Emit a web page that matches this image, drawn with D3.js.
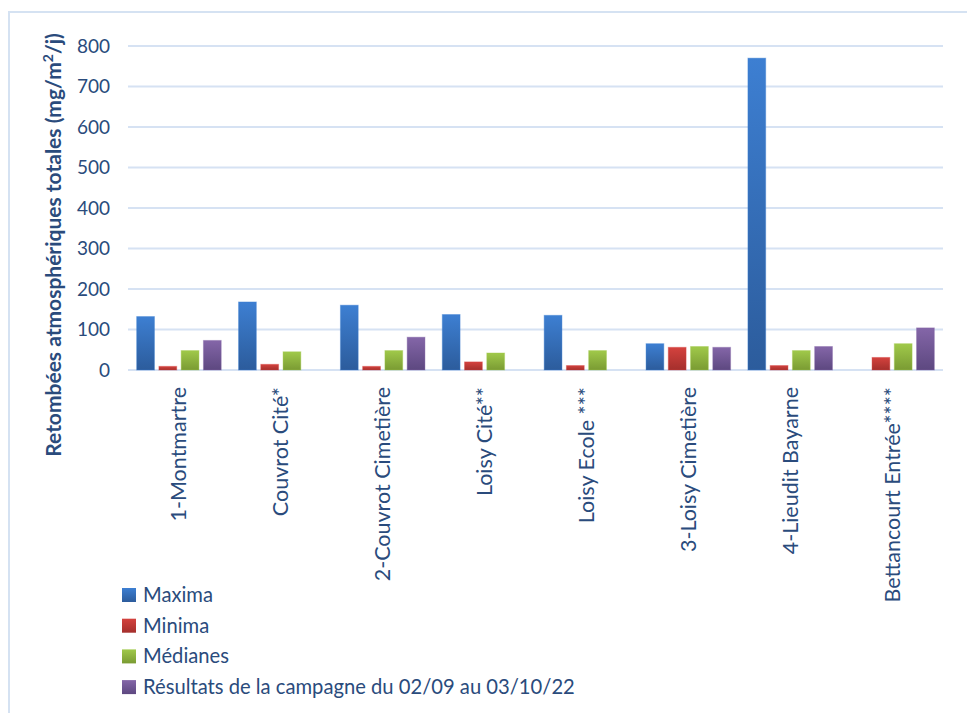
<!DOCTYPE html>
<html>
<head>
<meta charset="utf-8">
<script src="https://cdn.jsdelivr.net/npm/d3@7/dist/d3.min.js"></script>
<style>
  body { margin: 0; background: #fff; }
  #chart { width: 967px; height: 713px; }
  text { font-family: Lato, "Open Sans", sans-serif; fill: #2a4b7c; }
</style>
</head>
<body>
<div id="chart"></div>
<script>
// Data
var categories = ["1-Montmartre", "Couvrot Cité*", "2-Couvrot Cimetière", "Loisy Cité**",
    "Loisy Ecole ***", "3-Loisy Cimetière", "4-Lieudit Bayarne", "Bettancourt Entrée****"];
var seriesNames = ["Maxima", "Minima", "Médianes", "Résultats de la campagne du 02/09 au 03/10/22"];
var maxima    = [132, 168, 160, 137, 135, 65, 770, null];
var minima    = [9, 14, 9, 20, 11, 56, 11, 31];
var medianes  = [48, 45, 48, 42, 48, 58, 48, 65];
var resultats = [73, null, 81, null, null, 56, 58, 104];
var yTicks = [0, 100, 200, 300, 400, 500, 600, 700, 800];

function init() {
    var width = 967, height = 713;
    var svg = d3.select("#chart").append("svg")
        .attr("width", width)
        .attr("height", height);

    // gradients for the bars (light top, darker bottom)
    var grads = [["#3d7fd2", "#2c5c9c"], ["#d4423e", "#a42f2c"], ["#a0c94a", "#7a9b33"], ["#8466a8", "#5d4880"]];
    var defs = svg.append("defs");
    grads.forEach(function (g, i) {
        var lg = defs.append("linearGradient").attr("id", "g" + i)
            .attr("x1", 0).attr("y1", 0).attr("x2", 0).attr("y2", 1);
        lg.append("stop").attr("offset", "0%").attr("stop-color", g[0]);
        lg.append("stop").attr("offset", "100%").attr("stop-color", g[1]);
    });

    // chart frame
    svg.append("rect")
        .attr("x", 9).attr("y", 12)
        .attr("width", 970).attr("height", 720)
        .attr("fill", "none")
        .attr("stroke", "#d5e2f2")
        .attr("stroke-width", 2);

    var plotLeft = 128, plotRight = 943;
    var y = d3.scaleLinear().domain([0, 800]).range([370, 46]);
    var x0 = d3.scaleBand().domain(categories).range([plotLeft, plotRight]).paddingInner(0.17).paddingOuter(0.085);
    var x1 = d3.scaleBand().domain(d3.range(4)).range([0, x0.bandwidth()]).paddingInner(0.2);

    // gridlines
    svg.append("g").selectAll("line")
        .data(yTicks)
        .enter().append("line")
        .attr("x1", plotLeft).attr("x2", plotRight)
        .attr("y1", d => y(d)).attr("y2", d => y(d))
        .attr("stroke", "#d6e2f3")
        .attr("stroke-width", 2);

    // y axis labels
    var yAxis = d3.axisLeft(y).tickValues(yTicks).tickSize(0).tickPadding(0);
    var ya = svg.append("g")
        .attr("transform", "translate(110,0)")
        .call(yAxis);
    ya.select(".domain").remove();
    ya.selectAll("text")
        .style("font-size", "19px")
        .style("font-family", "Lato, sans-serif")
        .attr("fill", "#2a4b7c");

    // y axis title
    var title = svg.append("text")
        .attr("transform", "translate(61,245) rotate(-90)")
        .attr("text-anchor", "middle")
        .style("font-size", "21px")
        .style("font-weight", "bold");
    title.append("tspan").text("Retombées atmosphériques totales (mg/m");
    title.append("tspan").attr("baseline-shift", "super").style("font-size", "14px").text("2");
    title.append("tspan").text("/j)");

    // bars
    var series = [maxima, minima, medianes, resultats];
    var groups = svg.append("g").selectAll("g")
        .data(categories)
        .enter().append("g")
        .attr("transform", d => "translate(" + x0(d) + ",0)");

    groups.selectAll("rect")
        .data((d, ci) => series.map((s, si) => ({ si: si, v: s[ci] })).filter(e => e.v != null))
        .enter().append("rect")
        .attr("x", d => x1(d.si))
        .attr("width", x1.bandwidth())
        .attr("y", d => y(d.v))
        .attr("height", d => y(0) - y(d.v))
        .attr("fill", d => "url(#g" + d.si + ")")
        .attr("stroke", d => grads[d.si][0])
        .attr("stroke-opacity", 0.4)
        .attr("stroke-width", 1);

    // category labels
    var xa = svg.append("g")
        .attr("transform", "translate(0,370)")
        .call(d3.axisBottom(x0).tickSize(0).tickPadding(0));
    xa.select(".domain").remove();
    xa.selectAll("text")
        .attr("transform", "rotate(-90)")
        .attr("text-anchor", "end")
        .attr("x", -17)
        .attr("y", 0)
        .attr("dy", "0.35em")
        .style("font-size", "21.5px")
        .style("font-family", "Lato, sans-serif")
        .attr("fill", "#2a4b7c");

    // legend
    var legend = svg.append("g").attr("transform", "translate(122,595)");
    var row = legend.selectAll("g")
        .data(seriesNames)
        .enter().append("g")
        .attr("transform", (d, i) => "translate(0," + (i * 30.7) + ")");
    row.append("rect")
        .attr("x", 0).attr("y", -7)
        .attr("width", 14).attr("height", 14)
        .attr("fill", (d, i) => "url(#g" + i + ")");
    row.append("text")
        .attr("x", 21).attr("y", 0)
        .attr("dy", "0.35em")
        .style("font-size", "20.2px")
        .text(d => d);
}

window.onload = init;
</script>
</body>
</html>
